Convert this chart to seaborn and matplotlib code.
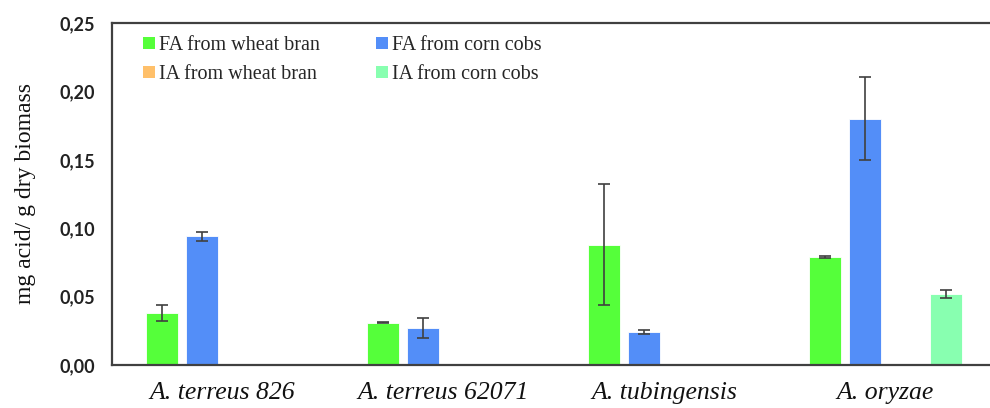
import numpy as np
import pandas as pd
import matplotlib
matplotlib.use("Agg")
import matplotlib.pyplot as plt
from matplotlib.patches import Patch
from matplotlib.colors import to_hex
import seaborn as sns

# Fungal strains (x categories)
strains = ["A. terreus 826", "A. terreus 62071", "A. tubingensis", "A. oryzae"]
# Acid / substrate combinations (hue levels)
series = ["FA from wheat bran", "FA from corn cobs", "IA from wheat bran", "IA from corn cobs"]

# mg acid per g dry biomass (NaN = not detected)
fa_wheat = [0.038, 0.031, 0.088, 0.079]
fa_corn = [0.094, 0.027, 0.024, 0.180]
ia_wheat = [np.nan, np.nan, np.nan, np.nan]
ia_corn = [np.nan, np.nan, np.nan, 0.052]

# standard deviations
fa_wheat_sd = [0.006, 0.0005, 0.044, 0.0007]
fa_corn_sd = [0.0035, 0.007, 0.0017, 0.0305]
ia_wheat_sd = [np.nan, np.nan, np.nan, np.nan]
ia_corn_sd = [np.nan, np.nan, np.nan, 0.003]

y_ticks = [0.00, 0.05, 0.10, 0.15, 0.20, 0.25]
y_tick_labels = ["0,00", "0,05", "0,10", "0,15", "0,20", "0,25"]

colors = ["#55FF3A", "#538EF8", "#FFC06A", "#88FFB0"]

values = [fa_wheat, fa_corn, ia_wheat, ia_corn]
sds = [fa_wheat_sd, fa_corn_sd, ia_wheat_sd, ia_corn_sd]

rows = []
for s, vals, errs in zip(series, values, sds):
    for st, v, e in zip(strains, vals, errs):
        rows.append({"strain": st, "series": s, "value": v, "sd": e})
df = pd.DataFrame(rows)
plot_df = df.dropna(subset=["value"])

sns.set_style("white")
plt.rcParams["font.family"] = ["Liberation Serif", "DejaVu Serif"]

fig = plt.figure(figsize=(9.9, 4.08), dpi=100)
ax = fig.add_axes([112 / 990, 43 / 408, 884 / 990, 342 / 408])

sns.barplot(
    data=plot_df, x="strain", y="value", hue="series",
    order=strains, hue_order=series, palette=colors,
    width=0.724, gap=0.2, errorbar=None, legend=False, ax=ax,
    edgecolor="white", linewidth=0.6, saturation=1,
)

# error bars on top of each drawn bar, series identified by bar colour
color_to_series = {c.lower(): s for c, s in zip(colors, series)}
for patch in list(ax.patches):
    h = patch.get_height()
    if not np.isfinite(h) or h <= 0:
        continue
    s = color_to_series.get(to_hex(patch.get_facecolor()).lower())
    if s is None:
        continue
    cx = patch.get_x() + patch.get_width() / 2
    idx = int(round(cx))
    row = df[(df["series"] == s) & (df["strain"] == strains[idx])].iloc[0]
    ax.errorbar(cx, row["value"], yerr=row["sd"], fmt="none",
                ecolor="#404040", elinewidth=1.2, capsize=4, capthick=1.2)

ax.set_xlim(-0.5, 3.5)
ax.set_ylim(0, 0.25)
ax.set_yticks(y_ticks)
ax.set_yticklabels(y_tick_labels, fontsize=13, fontweight="bold", color="#222222",
                   family=["Lato", "DejaVu Sans"])
ax.set_xticks(range(len(strains)))
ax.set_xticklabels(strains, fontsize=18.5, style="italic", color="#111111")
ax.set_xticks([-0.5, 0.5, 1.5, 2.5, 3.5], minor=True)
ax.tick_params(axis="x", which="major", length=0, pad=12)
ax.tick_params(axis="x", which="minor", length=6, width=1.2, direction="out", color="#404040")
ax.tick_params(axis="y", which="major", length=6, width=1.2, direction="out", color="#404040", pad=6)
ax.set_xlabel("")
ax.set_ylabel("mg acid/ g dry biomass", fontsize=17, color="#111111", labelpad=17)

for side in ["left", "bottom", "top"]:
    ax.spines[side].set_visible(True)
    ax.spines[side].set_color("#404040")
    ax.spines[side].set_linewidth(1.6)
ax.spines["right"].set_visible(False)

handles = [Patch(facecolor=c, edgecolor="none", label=s) for c, s in zip(colors, series)]
order = [0, 2, 1, 3]
ax.legend([handles[i] for i in order], [series[i] for i in order],
          ncol=2, loc="upper left", bbox_to_anchor=(0.02, 1.0), frameon=False,
          fontsize=14.5, handlelength=0.6, handleheight=0.6, handletextpad=0.2,
          columnspacing=2.8, labelspacing=0.5, borderaxespad=0.25)

fig.savefig("out.png", dpi=100)
